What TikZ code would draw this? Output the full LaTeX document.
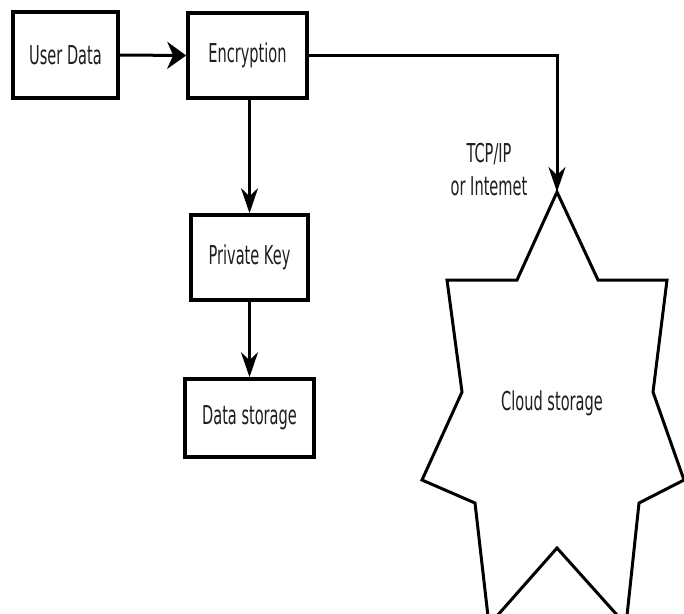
\documentclass[tikz,border=0pt]{standalone}
\usepackage{fontspec}
\setmainfont{DejaVu Sans}[FakeStretch=0.56]
\usetikzlibrary{arrows.meta}
\definecolor{ink}{HTML}{1E1E1E}
\tikzset{
  box/.style={draw=black,line width=3.6pt,minimum width=#1,minimum height=85pt,inner sep=0pt,text=ink,font=\fontsize{26}{33}\selectfont},
  box/.default=118pt,
  conn/.style={line width=3pt},
  hhead/.style={-{Stealth[length=19pt,width=27pt,inset=6pt]}},
  vhead/.style={-{Stealth[length=25pt,width=17pt,inset=8pt]}},
  lbl/.style={text=ink,font=\fontsize{26}{33}\selectfont,align=center,inner sep=0pt},
}
\begin{document}
\begin{tikzpicture}[x=1pt,y=-1pt]
\useasboundingbox (0,0) rectangle (684,613);
\fill[white] (0,0) rectangle (684,613);
% boxes
\node[box=105pt,minimum height=86pt] (ud) at (65.5,55) {User Data};
\node[box=119pt,minimum height=85pt] (enc) at (247.5,55.5) {Encryption};
\node[box=117pt,minimum height=85pt] (pk) at (249.5,257.5) {Private Key};
\node[box=129pt,minimum height=78pt] (ds) at (249.5,418) {Data storage};
% star
\coordinate (startop) at (557,192);
\draw[line width=3pt,line join=miter] (startop) -- (598,280) -- (667,280) -- (653,392) -- (684,480)
  -- (639,503) -- (626,625) -- (557,548) -- (489,625) -- (475,503) -- (422,480)
  -- (462,392) -- (447,280) -- (517,280) -- cycle;
\node[lbl] (cloud) at (552,403) {Cloud storage};
\node[lbl] (tcp) at (489,170) {TCP/IP\\or Intemet};
% connectors
\draw[conn,hhead] (ud.east) -- (enc.west);
\draw[conn,vhead] (pk.north |- enc.south) -- (pk.north);
\draw[conn,vhead] (pk.south) -- (ds.north);
\draw[conn,vhead] (enc.east) -| (startop);
\end{tikzpicture}
\end{document}
